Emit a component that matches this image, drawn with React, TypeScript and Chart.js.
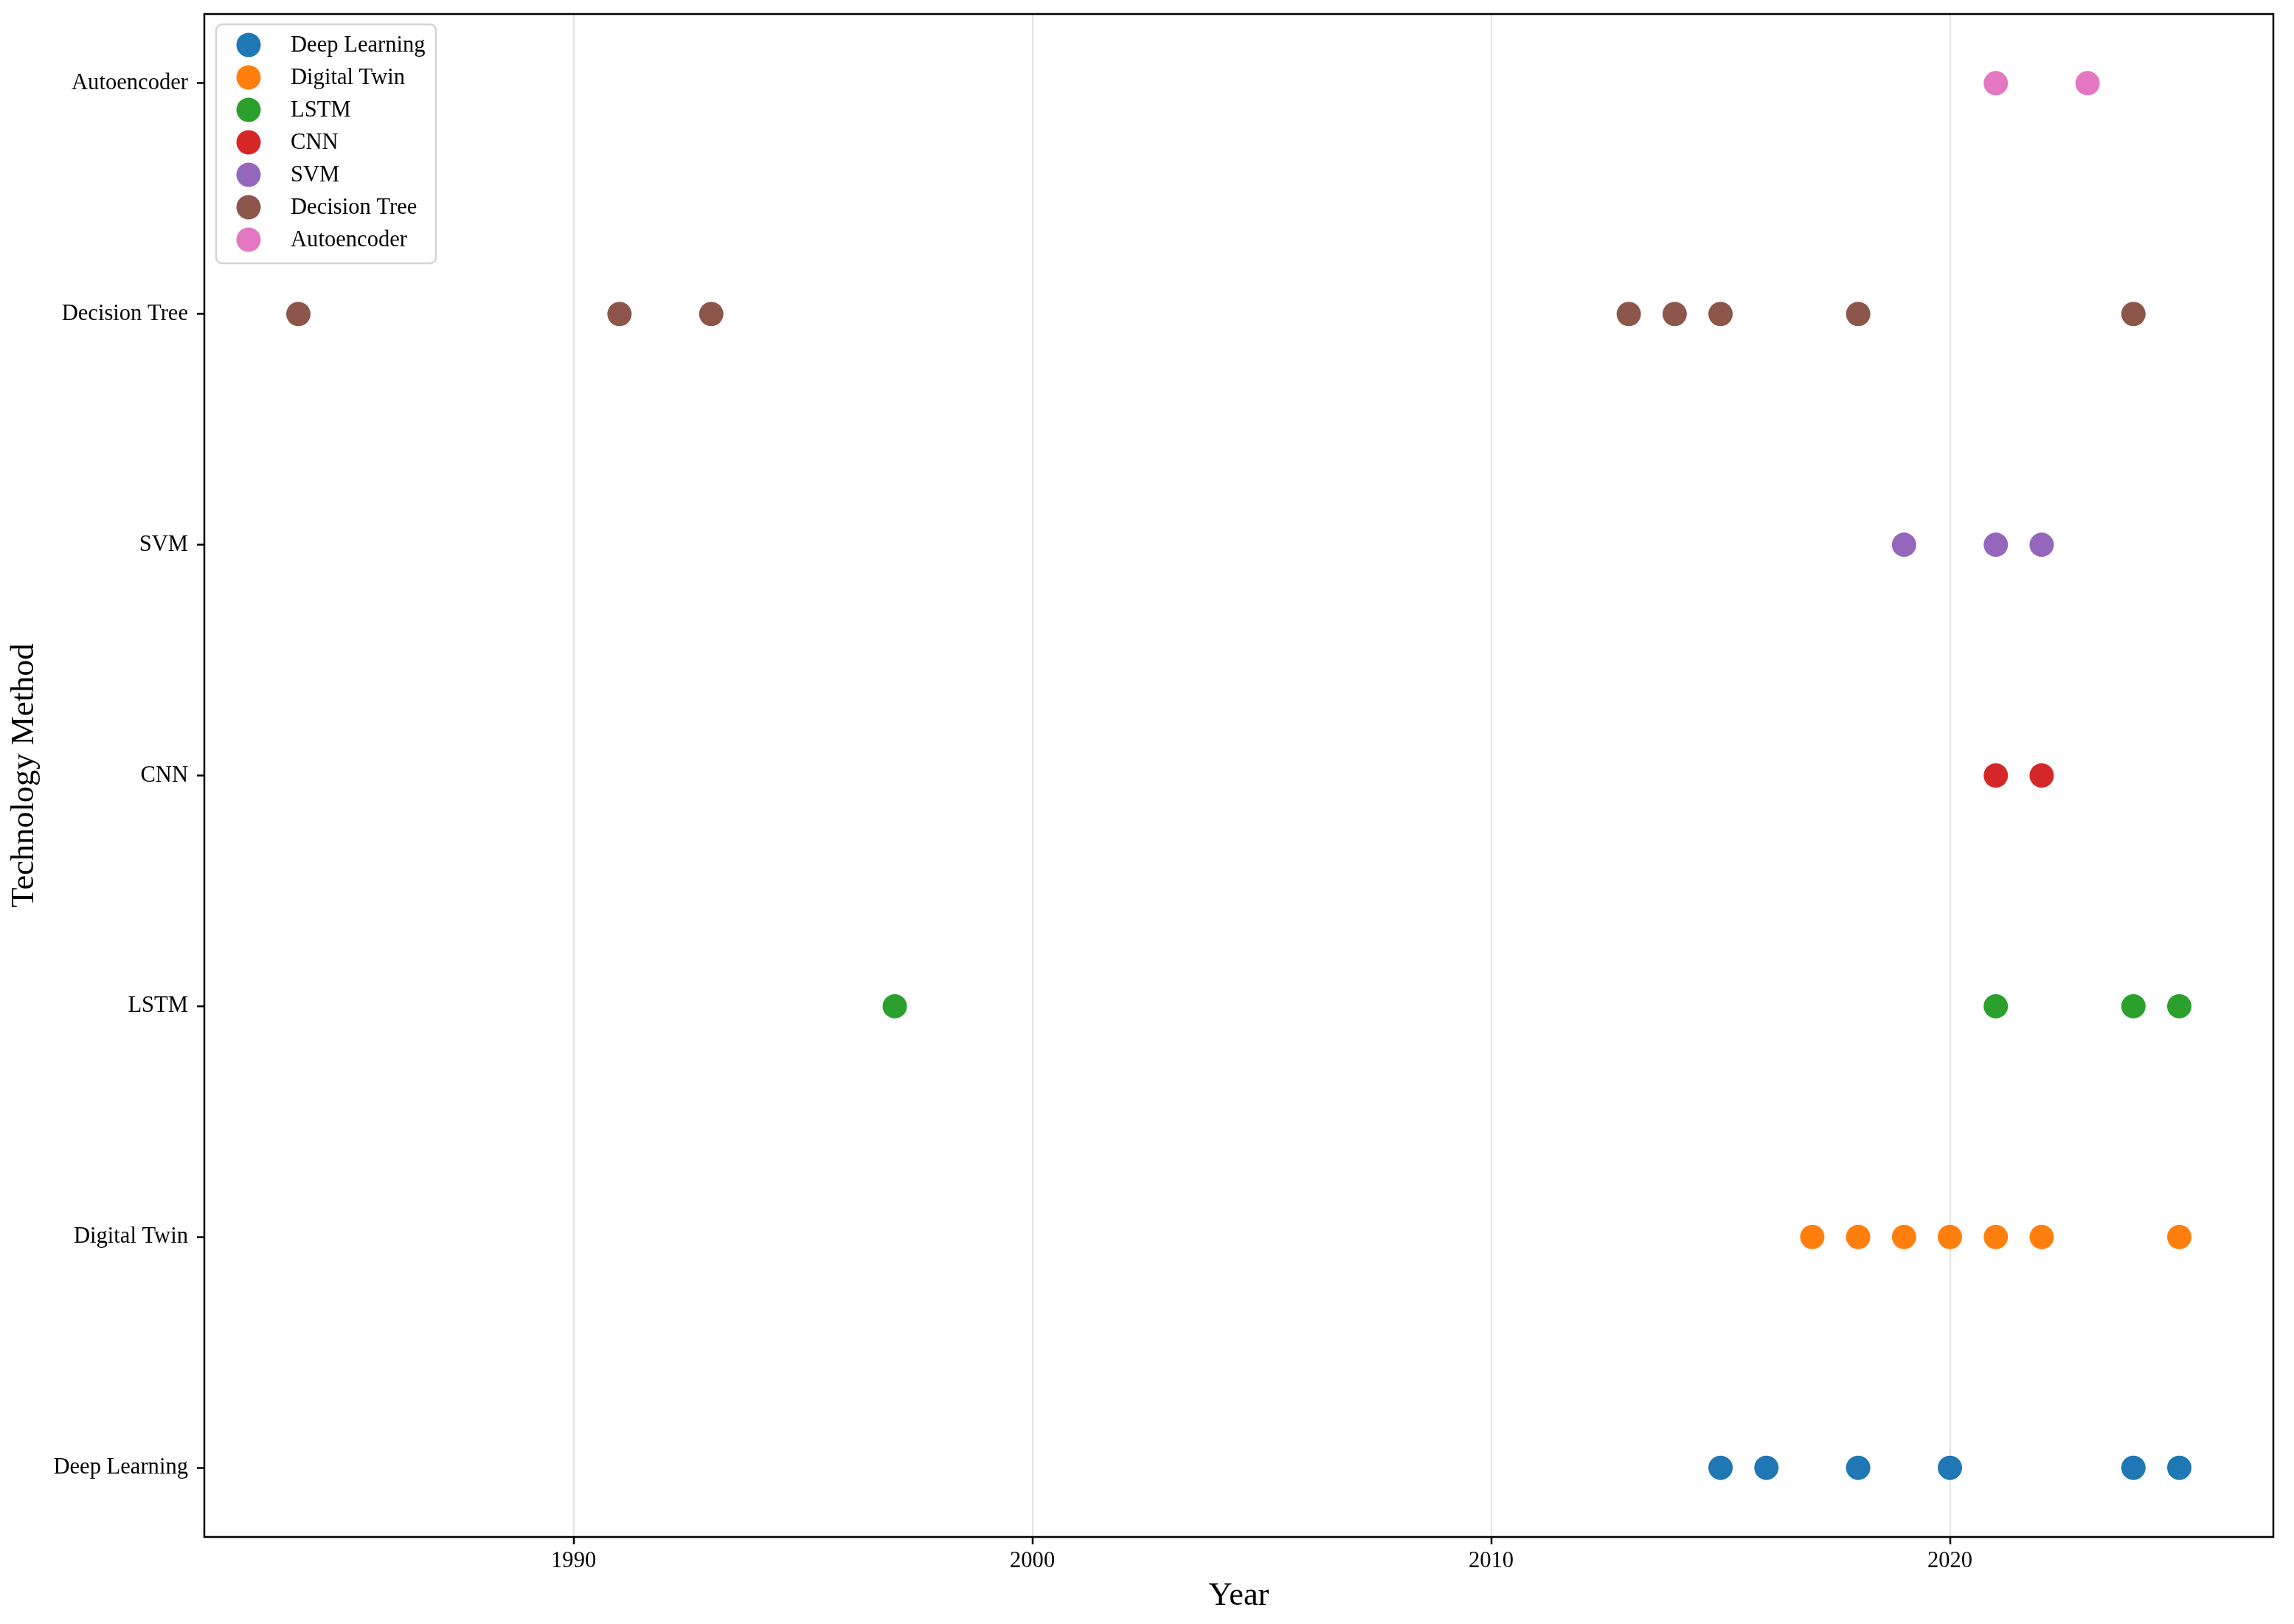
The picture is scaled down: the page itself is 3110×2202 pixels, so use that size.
import React, { useEffect, useRef } from 'react';
import { Chart, registerables } from 'chart.js';

Chart.register(...registerables);

const categories = ['Deep Learning', 'Digital Twin', 'LSTM', 'CNN', 'SVM', 'Decision Tree', 'Autoencoder'];
const colors = ['#1f77b4', '#ff7f0e', '#2ca02c', '#d62728', '#9467bd', '#8c564b', '#e377c2'];

const deepLearningYears = [2015, 2016, 2018, 2020, 2024, 2025];
const digitalTwinYears = [2017, 2018, 2019, 2020, 2021, 2022, 2025];
const lstmYears = [1997, 2021, 2024, 2025];
const cnnYears = [2021, 2022];
const svmYears = [2019, 2021, 2022];
const decisionTreeYears = [1984, 1991, 1993, 2013, 2014, 2015, 2018, 2024];
const autoencoderYears = [2021, 2023];

const seriesYears = [
  deepLearningYears,
  digitalTwinYears,
  lstmYears,
  cnnYears,
  svmYears,
  decisionTreeYears,
  autoencoderYears,
];

const xTickValues = [1990, 2000, 2010, 2020];
const xMin = 1981.95;
const xMax = 2027.05;
const yMin = -0.3;
const yMax = 6.3;

const FONT = '"Liberation Serif", "Times New Roman", serif';
const TICK_SIZE = 30.6;
const TITLE_SIZE = 44.4;
const POINT_R = 16.5;

const framePlugin = {
  id: 'frame',
  afterDatasetsDraw(chart: any) {
    const { ctx, chartArea } = chart;
    ctx.save();
    ctx.strokeStyle = '#000';
    ctx.lineWidth = 2.5;
    ctx.strokeRect(chartArea.left, chartArea.top, chartArea.right - chartArea.left, chartArea.bottom - chartArea.top);
    ctx.restore();
  },
};

const legendPlugin = {
  id: 'mplLegend',
  afterDraw(chart: any) {
    const { ctx, chartArea } = chart;
    const x = chartArea.left + 16;
    const y = chartArea.top + 14;
    const rowH = 44;
    const n = chart.data.datasets.length;
    const w = 298;
    const h = 28 + rowH * (n - 1) + 28 + 4;
    ctx.save();
    ctx.beginPath();
    ctx.roundRect(x, y, w, h, 8);
    ctx.fillStyle = 'rgba(255,255,255,0.85)';
    ctx.fill();
    ctx.strokeStyle = '#d4d4d4';
    ctx.lineWidth = 2.5;
    ctx.stroke();
    ctx.font = `${TICK_SIZE}px ${FONT}`;
    ctx.textBaseline = 'middle';
    ctx.textAlign = 'left';
    chart.data.datasets.forEach((ds: any, i: number) => {
      const cy = y + 28 + i * rowH;
      ctx.beginPath();
      ctx.arc(x + 44, cy, POINT_R, 0, Math.PI * 2);
      ctx.fillStyle = ds.backgroundColor;
      ctx.fill();
      ctx.fillStyle = '#000';
      ctx.fillText(ds.label, x + 101, cy + 1);
    });
    ctx.restore();
  },
};

export default function App() {
  const canvasRef = useRef<HTMLCanvasElement | null>(null);

  useEffect(() => {
    const canvas = canvasRef.current;
    if (!canvas) return;
    const datasets = categories.map((name, i) => ({
      label: name,
      data: seriesYears[i].map((yr) => ({ x: yr, y: i })),
      backgroundColor: colors[i],
      borderColor: colors[i],
      borderWidth: 0,
      pointRadius: POINT_R,
      pointHoverRadius: POINT_R,
    }));

    const chart = new Chart(canvas, {
      type: 'scatter',
      data: { datasets },
      plugins: [framePlugin, legendPlugin],
      options: {
        animation: false,
        responsive: false,
        devicePixelRatio: 1,
        events: [],
        layout: { padding: { top: 19, right: 28, left: 0, bottom: 0 } },
        plugins: {
          legend: { display: false },
          tooltip: { enabled: false },
        },
        scales: {
          x: {
            type: 'linear',
            min: xMin,
            max: xMax,
            afterBuildTicks: (scale: any) => {
              scale.ticks = xTickValues.map((v) => ({ value: v }));
            },
            afterFit: (scale: any) => {
              scale.height = 118;
              scale.paddingLeft = 0;
              scale.paddingRight = 0;
              scale.paddingTop = 0;
              scale.paddingBottom = 0;
            },
            border: { display: false },
            grid: {
              color: '#e3e3e3',
              lineWidth: 2,
              drawTicks: true,
              tickLength: 10,
              tickColor: '#000',
              tickWidth: 2.5,
            },
            ticks: {
              color: '#000',
              padding: 5,
              maxRotation: 0,
              font: { family: FONT, size: TICK_SIZE },
              callback: (v: any) => String(v),
            },
            title: {
              display: true,
              text: 'Year',
              color: '#000',
              padding: { top: 0, bottom: 11 },
              font: { family: FONT, size: TITLE_SIZE },
            },
          },
          y: {
            type: 'linear',
            min: yMin,
            max: yMax,
            afterBuildTicks: (scale: any) => {
              scale.ticks = categories.map((_, i) => ({ value: i }));
            },
            afterFit: (scale: any) => {
              scale.width = 277;
              scale.paddingLeft = 0;
              scale.paddingRight = 0;
              scale.paddingTop = 0;
              scale.paddingBottom = 0;
            },
            border: { display: false },
            grid: {
              drawOnChartArea: false,
              drawTicks: true,
              tickLength: 10,
              tickColor: '#000',
              tickWidth: 2.5,
            },
            ticks: {
              color: '#000',
              padding: 12,
              font: { family: FONT, size: TICK_SIZE },
              callback: (v: any) => categories[Math.round(Number(v))] ?? '',
            },
            title: {
              display: true,
              text: 'Technology Method',
              color: '#000',
              padding: { top: 7, bottom: 0 },
              font: { family: FONT, size: TITLE_SIZE },
            },
          },
        },
      } as any,
    });
    return () => chart.destroy();
  }, []);

  return (
    <div style={{ position: 'absolute', left: 0, top: 0, width: 3110, height: 2202, background: '#fff' }}>
      <canvas ref={canvasRef} width={3110} height={2202} style={{ width: 3110, height: 2202, display: 'block' }} />
    </div>
  );
}
